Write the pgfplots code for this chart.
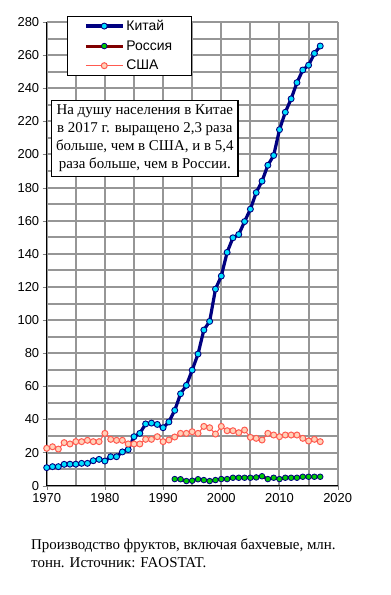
\documentclass[border=0pt]{standalone}
\usepackage{fontspec}
\setmainfont{Liberation Serif}
\setsansfont{Liberation Sans}
\usepackage{pgfplots}
\pgfplotsset{compat=1.18}
\definecolor{chinaline}{RGB}{0,0,128}
\definecolor{chinamark}{RGB}{0,224,255}
\definecolor{rusline}{RGB}{128,0,0}
\definecolor{rusmark}{RGB}{0,204,0}
\definecolor{usline}{RGB}{255,90,80}
\definecolor{usfill}{RGB}{255,210,185}
\definecolor{gridc}{RGB}{150,150,150}
\begin{document}
\begin{tikzpicture}
\useasboundingbox (0bp,0bp) rectangle (391bp,595bp);
\begin{axis}[
 at={(46.7bp,109.3bp)}, anchor=south west,
 scale only axis, width=291bp, height=463.7bp,
 xmin=1970,xmax=2020,ymin=0,ymax=280,
 xtick={1970,1980,...,2020}, ytick={0,20,...,280},
 minor x tick num=1, minor y tick num=1,
 grid=both,
 grid style={gridc, line width=2bp},
 major grid style={gridc, line width=2bp},
 minor grid style={gridc, line width=2bp},
 axis x line*=bottom, axis y line*=left,
 axis line style={black,line width=1bp,-},
 tick align=outside, major tick length=4bp, minor tick length=0pt,
 /pgf/number format/assume math mode=true,
 x tick label style={/pgf/number format/1000 sep={}},
 ticklabel style={font=\sffamily\fontsize{13}{15}\selectfont},
 legend style={at={(0.0687,1.0136)}, anchor=north west, draw=black, line width=1bp, fill=white,
   font=\sffamily\fontsize{14}{16}\selectfont, row sep=4.5bp},
 legend cell align=left,
 legend image code/.code={\path (-14bp,0bp); \draw[mark repeat=2,mark phase=2] plot coordinates {(0bp,0bp) (18.5bp,0bp) (37bp,0bp)};},
]
\addplot[chinaline, line width=3.2bp, mark=*, mark size=3bp, mark options={fill=chinamark, draw=chinaline, line width=0.9bp}] coordinates {
(1970,10.9)(1971,11.5)(1972,11.5)(1973,12.9)(1974,13)(1975,13)(1976,13.5)(1977,13.5)(1978,15.1)(1979,15.9)
(1980,14.9)(1981,17.5)(1982,17.5)(1983,20.4)(1984,21.8)(1985,29.6)(1986,31.6)(1987,37.3)(1988,37.8)(1989,37)
(1990,35)(1991,38.5)(1992,45.5)(1993,55.5)(1994,60.6)(1995,69.8)(1996,79.5)(1997,94)(1998,99.2)(1999,118.7)
(2000,126.6)(2001,140.9)(2002,149.7)(2003,151.7)(2004,159.5)(2005,167)(2006,177)(2007,183.9)(2008,193.5)(2009,199.4)
(2010,215)(2011,225.5)(2012,233.6)(2013,243.4)(2014,251)(2015,253.9)(2016,261)(2017,265.5)};
\addlegendentry{\makebox[60bp][l]{Китай}}
\addplot[rusline, line width=3bp, mark=*, mark size=2.8bp, mark options={fill=rusmark, draw=chinaline, line width=0.8bp}] coordinates {
(1992,4.0)(1993,3.9)(1994,2.8)(1995,3.0)(1996,3.9)(1997,3.4)(1998,2.8)(1999,3.4)(2000,4.0)(2001,4.0)
(2002,4.8)(2003,4.8)(2004,4.8)(2005,4.8)(2006,5.0)(2007,5.7)(2008,4.0)(2009,4.8)(2010,4.0)(2011,4.8)
(2012,4.8)(2013,4.8)(2014,5.4)(2015,5.4)(2016,5.4)(2017,5.4)};
\addlegendentry{\makebox[60bp][l]{Россия}}
\addplot[usline, line width=1bp, mark=*, mark size=3bp, mark options={fill=usfill, draw=usline, line width=1bp}] coordinates {
(1970,22.6)(1971,23.5)(1972,22.1)(1973,26)(1974,25.2)(1975,26.6)(1976,26.6)(1977,27.4)(1978,26.6)(1979,26.6)
(1980,31.6)(1981,28)(1982,27.4)(1983,27.4)(1984,25.2)(1985,25.2)(1986,25.2)(1987,28)(1988,28)(1989,29.6)
(1990,26.6)(1991,27.6)(1992,29.4)(1993,31.6)(1994,31.6)(1995,32.6)(1996,31.6)(1997,35.8)(1998,35)(1999,31.2)
(2000,35.8)(2001,33.2)(2002,33.2)(2003,32)(2004,33.6)(2005,29.2)(2006,28.6)(2007,27.6)(2008,31.6)(2009,30.6)
(2010,29.6)(2011,30.6)(2012,30.6)(2013,30.6)(2014,28.6)(2015,27)(2016,28)(2017,26.6)};
\addlegendentry{\makebox[60bp][l]{США}}
\end{axis}
\node[draw=black, line width=1.2bp, fill=white, align=center, anchor=north west, inner xsep=4.5bp, inner ysep=4.5bp,
  font=\fontsize{15}{18}\selectfont] at (51bp,495bp)
  {На душу населения в Китае\\в 2017 г. выращено 2,3 раза\\больше, чем в США, и в 5,4\\раза больше, чем в России.};
\node[anchor=north west, align=left, inner sep=0pt, font=\fontsize{15}{18}\selectfont] at (31bp,56bp)
  {Производство фруктов, включая бахчевые, млн.\\тонн. Источник: FAOSTAT.};
\end{tikzpicture}
\end{document}
